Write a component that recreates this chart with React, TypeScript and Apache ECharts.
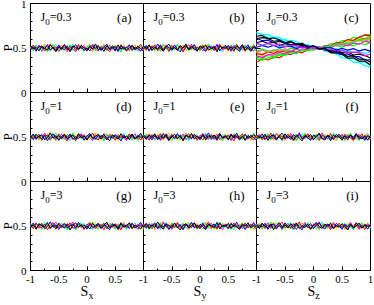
import React, { useEffect, useRef } from 'react';
import * as echarts from 'echarts';

// x grids
const X41 = [-1, -0.95, -0.9, -0.85, -0.8, -0.75, -0.7, -0.65, -0.6, -0.55, -0.5, -0.45, -0.4, -0.35, -0.3, -0.25, -0.2, -0.15, -0.1, -0.05, 0, 0.05, 0.1, 0.15, 0.2, 0.25, 0.3, 0.35, 0.4, 0.45, 0.5, 0.55, 0.6, 0.65, 0.7, 0.75, 0.8, 0.85, 0.9, 0.95, 1];
const X21 = [-1, -0.9, -0.8, -0.7, -0.6, -0.5, -0.4, -0.3, -0.2, -0.1, 0, 0.1, 0.2, 0.3, 0.4, 0.5, 0.6, 0.7, 0.8, 0.9, 1];

// flat noisy curves around P = 0.5
const n1 = [0.506, 0.478, 0.521, 0.493, 0.537, 0.472, 0.512, 0.488, 0.528, 0.464,
  0.503, 0.531, 0.483, 0.516, 0.459, 0.519, 0.495, 0.540, 0.476, 0.509,
  0.486, 0.529, 0.468, 0.514, 0.498, 0.524, 0.479, 0.535, 0.490, 0.511,
  0.470, 0.522, 0.497, 0.543, 0.481, 0.507, 0.461, 0.518, 0.492, 0.527, 0.502];
const n2 = [0.489, 0.526, 0.470, 0.513, 0.484, 0.545, 0.497, 0.463, 0.519, 0.505,
  0.477, 0.533, 0.491, 0.455, 0.510, 0.524, 0.480, 0.500, 0.538, 0.473,
  0.517, 0.493, 0.460, 0.522, 0.503, 0.482, 0.541, 0.467, 0.512, 0.495,
  0.530, 0.475, 0.515, 0.488, 0.462, 0.520, 0.499, 0.536, 0.479, 0.508, 0.486];
const n3 = [0.520, 0.495, 0.536, 0.474, 0.508, 0.487, 0.527, 0.466, 0.515, 0.543,
  0.484, 0.505, 0.472, 0.529, 0.498, 0.546, 0.480, 0.517, 0.490, 0.463,
  0.523, 0.503, 0.534, 0.477, 0.494, 0.514, 0.458, 0.519, 0.500, 0.532,
  0.486, 0.510, 0.469, 0.525, 0.496, 0.539, 0.476, 0.507, 0.461, 0.516, 0.497];
const n4 = [0.476, 0.505, 0.491, 0.532, 0.461, 0.514, 0.521, 0.483, 0.502, 0.473,
  0.536, 0.493, 0.512, 0.468, 0.525, 0.488, 0.457, 0.517, 0.498, 0.528,
  0.471, 0.509, 0.544, 0.486, 0.466, 0.519, 0.496, 0.481, 0.530, 0.503,
  0.463, 0.515, 0.490, 0.523, 0.475, 0.534, 0.500, 0.478, 0.511, 0.465, 0.518];
const n5 = [0.512, 0.470, 0.530, 0.498, 0.480, 0.523, 0.459, 0.507, 0.538, 0.488,
  0.516, 0.476, 0.526, 0.495, 0.535, 0.472, 0.503, 0.483, 0.519, 0.464,
  0.510, 0.541, 0.492, 0.474, 0.521, 0.500, 0.529, 0.468, 0.505, 0.485,
  0.524, 0.497, 0.455, 0.514, 0.481, 0.502, 0.533, 0.475, 0.518, 0.494, 0.508];
const n6 = [0.497, 0.534, 0.481, 0.510, 0.524, 0.468, 0.495, 0.547, 0.486, 0.515,
  0.462, 0.505, 0.527, 0.479, 0.500, 0.520, 0.473, 0.539, 0.492, 0.512,
  0.465, 0.526, 0.484, 0.507, 0.531, 0.476, 0.518, 0.494, 0.457, 0.522,
  0.502, 0.478, 0.537, 0.490, 0.513, 0.471, 0.529, 0.483, 0.498, 0.542, 0.477];
const n7 = [0.484, 0.515, 0.463, 0.524, 0.503, 0.491, 0.539, 0.478, 0.510, 0.469,
  0.530, 0.498, 0.482, 0.520, 0.456, 0.508, 0.536, 0.489, 0.513, 0.474,
  0.500, 0.466, 0.527, 0.495, 0.518, 0.472, 0.506, 0.544, 0.480, 0.497,
  0.517, 0.460, 0.525, 0.487, 0.504, 0.532, 0.473, 0.511, 0.492, 0.467, 0.522];
const n8 = [0.525, 0.489, 0.507, 0.467, 0.519, 0.496, 0.475, 0.533, 0.502, 0.458,
  0.513, 0.483, 0.540, 0.494, 0.471, 0.522, 0.508, 0.479, 0.531, 0.498,
  0.470, 0.517, 0.490, 0.546, 0.477, 0.505, 0.464, 0.524, 0.495, 0.514,
  0.474, 0.535, 0.487, 0.510, 0.469, 0.500, 0.528, 0.482, 0.521, 0.491, 0.465];
const FLAT = [n1, n2, n3, n4, n5, n6, n7, n8];
const FLAT_COLORS = ['#ffff00', '#ffa500', '#00ffff', '#ff00ff', '#00ff00', '#ff0000', '#0000ff', '#000000'];

// panel (c): fan of curves crossing near Sz ~ 0.1
const c1 = [0.680, 0.643, 0.654, 0.619, 0.620, 0.579, 0.585, 0.575, 0.535, 0.537, 0.505, 0.512, 0.463, 0.460, 0.441, 0.390, 0.383, 0.339, 0.340, 0.299, 0.288];
const c2 = [0.632, 0.641, 0.602, 0.612, 0.593, 0.561, 0.576, 0.545, 0.553, 0.514, 0.520, 0.491, 0.493, 0.446, 0.446, 0.431, 0.387, 0.390, 0.353, 0.354, 0.310];
const c3 = [0.613, 0.582, 0.588, 0.559, 0.575, 0.558, 0.533, 0.550, 0.519, 0.528, 0.496, 0.505, 0.474, 0.484, 0.447, 0.425, 0.434, 0.403, 0.404, 0.365, 0.367];
const c4 = [0.559, 0.576, 0.553, 0.564, 0.530, 0.545, 0.542, 0.513, 0.527, 0.507, 0.520, 0.490, 0.495, 0.465, 0.479, 0.451, 0.458, 0.421, 0.431, 0.415, 0.387];
const c5 = [0.549, 0.523, 0.544, 0.534, 0.513, 0.536, 0.509, 0.522, 0.497, 0.519, 0.498, 0.511, 0.481, 0.495, 0.493, 0.462, 0.473, 0.446, 0.463, 0.439, 0.452];
const c6 = [0.508, 0.528, 0.509, 0.529, 0.502, 0.515, 0.521, 0.494, 0.514, 0.499, 0.515, 0.489, 0.504, 0.505, 0.476, 0.496, 0.477, 0.493, 0.467, 0.484, 0.462];
const c7 = [0.556, 0.531, 0.553, 0.528, 0.545, 0.515, 0.528, 0.529, 0.501, 0.518, 0.498, 0.514, 0.481, 0.488, 0.461, 0.477, 0.447, 0.454, 0.450, 0.415, 0.430];
const c8 = [0.607, 0.617, 0.610, 0.576, 0.582, 0.551, 0.568, 0.537, 0.543, 0.510, 0.525, 0.494, 0.494, 0.454, 0.458, 0.443, 0.405, 0.414, 0.374, 0.373, 0.339];
const c9 = [0.340, 0.377, 0.365, 0.397, 0.391, 0.429, 0.427, 0.457, 0.446, 0.481, 0.496, 0.489, 0.528, 0.520, 0.549, 0.545, 0.584, 0.580, 0.614, 0.604, 0.639];
const c10 = [0.392, 0.382, 0.416, 0.400, 0.431, 0.429, 0.458, 0.444, 0.476, 0.483, 0.475, 0.510, 0.510, 0.549, 0.541, 0.582, 0.583, 0.621, 0.611, 0.650, 0.650];
const c11 = [0.403, 0.429, 0.412, 0.444, 0.456, 0.439, 0.465, 0.456, 0.489, 0.475, 0.497, 0.487, 0.525, 0.521, 0.550, 0.539, 0.580, 0.572, 0.604, 0.595, 0.634];
const c12 = [0.453, 0.433, 0.456, 0.467, 0.448, 0.476, 0.466, 0.492, 0.473, 0.495, 0.482, 0.512, 0.501, 0.533, 0.525, 0.550, 0.536, 0.568, 0.582, 0.569, 0.597];
const c13 = [0.459, 0.487, 0.469, 0.466, 0.491, 0.471, 0.498, 0.494, 0.478, 0.506, 0.489, 0.513, 0.494, 0.518, 0.528, 0.509, 0.537, 0.523, 0.553, 0.538, 0.560];
const c14 = [0.438, 0.423, 0.455, 0.439, 0.469, 0.455, 0.456, 0.488, 0.472, 0.493, 0.505, 0.486, 0.527, 0.522, 0.563, 0.559, 0.595, 0.587, 0.624, 0.644, 0.638];
const c15 = [0.411, 0.395, 0.425, 0.421, 0.449, 0.433, 0.464, 0.451, 0.487, 0.474, 0.496, 0.489, 0.521, 0.507, 0.535, 0.537, 0.525, 0.557, 0.542, 0.575, 0.563];
const c16 = [0.451, 0.476, 0.454, 0.481, 0.470, 0.492, 0.471, 0.492, 0.477, 0.506, 0.490, 0.509, 0.497, 0.533, 0.525, 0.557, 0.546, 0.573, 0.590, 0.576, 0.608];
const c17 = [0.665, 0.657, 0.618, 0.625, 0.591, 0.601, 0.567, 0.546, 0.555, 0.515, 0.523, 0.506, 0.466, 0.470, 0.428, 0.430, 0.382, 0.380, 0.342, 0.344, 0.304];
const c18 = [0.374, 0.363, 0.391, 0.385, 0.422, 0.417, 0.449, 0.435, 0.471, 0.470, 0.499, 0.489, 0.522, 0.512, 0.551, 0.541, 0.567, 0.560, 0.597, 0.589, 0.623];
const FAN = [c9, c10, c11, c12, c13, c14, c15, c16, c18, c17, c1, c2, c3, c4, c5, c6, c7, c8];
const FAN_COLORS = ['#ff0000', '#00ff00', '#ffff00', '#ffa500', '#00ff00', '#ff0000', '#ff00ff', '#bc8f8f', '#00ff00',
  '#00ffff', '#00ffff', '#000000', '#0000ff', '#000000', '#00ffff', '#0000ff', '#ff00ff', '#000000'];

const PANEL_LETTERS = ['(a)', '(b)', '(c)', '(d)', '(e)', '(f)', '(g)', '(h)', '(i)'];
const J0_VALUES = ['0.3', '1', '3'];
const AXIS_SUBS = ['x', 'y', 'z'];
const FAN_PANEL = 2;

const SERIF = 'Liberation Serif';

export default function App() {
  const ref = useRef<HTMLDivElement>(null);
  useEffect(() => {
    if (!ref.current) return;
    const chart = echarts.init(ref.current, null, { renderer: 'svg' });
    const grids: any[] = [];
    const xAxes: any[] = [];
    const yAxes: any[] = [];
    const series: any[] = [];
    const graphics: any[] = [];
    let flatIdx = 0;
    for (let p = 0; p < 9; p++) {
      const row = Math.floor(p / 3);
      const col = p % 3;
      const left = 30.5 + col * 113;
      const top = 3.5 + row * 89;
      const width = col === 2 ? 114 : 113;
      const height = 89;
      grids.push({
        left, top, width, height,
        show: true, borderColor: '#000', borderWidth: 1, backgroundColor: 'transparent',
        containLabel: false, outerBoundsMode: 'none',
      });
      xAxes.push({
        type: 'value', gridIndex: p, min: -1, max: 1, interval: 0.5,
        axisLine: { show: true, onZero: false, lineStyle: { color: '#000', width: 1 } },
        axisTick: { show: true, inside: true, length: 4, lineStyle: { color: '#000' } },
        minorTick: { show: true, splitNumber: 2, length: 2, lineStyle: { color: '#000' } },
        splitLine: { show: false }, minorSplitLine: { show: false },
        axisLabel: {
          show: row === 2, margin: 3, fontFamily: SERIF, fontSize: 11, lineHeight: 11, color: '#000',
          showMaxLabel: col === 2, showMinLabel: true,
        },
        name: row === 2 ? `{s|S}{b|${AXIS_SUBS[col]}}` : '',
        nameLocation: 'middle', nameGap: 14, nameMoveOverlap: false,
        nameTextStyle: {
          rich: {
            s: { fontFamily: SERIF, fontSize: 14, lineHeight: 14, color: '#000' },
            b: { fontFamily: SERIF, fontSize: 10, lineHeight: 9, padding: [7, 0, 0, 0], color: '#000' },
          },
        },
      });
      yAxes.push({
        type: 'value', gridIndex: p, min: 0, max: 1, interval: 0.5,
        axisLine: { show: true, onZero: false, lineStyle: { color: '#000', width: 1 } },
        axisTick: { show: true, inside: true, length: 4, lineStyle: { color: '#000' } },
        minorTick: { show: true, splitNumber: 5, length: 2, lineStyle: { color: '#000' } },
        splitLine: { show: false }, minorSplitLine: { show: false },
        axisLabel: {
          show: col === 0, margin: 4, fontFamily: SERIF, fontSize: 11, lineHeight: 7, color: '#000',
          showMaxLabel: row === 0, showMinLabel: true,
        },
        name: col === 0 ? 'P' : '', nameLocation: 'middle', nameGap: 17, nameRotate: 90,
        nameMoveOverlap: false,
        nameTextStyle: { fontFamily: SERIF, fontSize: 13, lineHeight: 13, color: '#000' },
      });
      if (p === FAN_PANEL) {
        FAN.forEach((arr, k) => {
          series.push({
            type: 'line', xAxisIndex: p, yAxisIndex: p, showSymbol: false, symbol: 'none',
            silent: true, lineStyle: { width: 1.2, color: FAN_COLORS[k] }, itemStyle: { color: FAN_COLORS[k] },
            data: X21.map((x, i) => [x, arr[i]]),
          });
        });
      } else {
        for (let k = 0; k < FLAT.length; k++) {
          const arr = FLAT[(k + flatIdx * 3) % FLAT.length];
          series.push({
            type: 'line', xAxisIndex: p, yAxisIndex: p, showSymbol: false, symbol: 'none',
            silent: true, lineStyle: { width: 1, color: FLAT_COLORS[k] }, itemStyle: { color: FLAT_COLORS[k] },
            data: X41.map((x, i) => [x, arr[i]]),
          });
        }
        flatIdx++;
      }
      graphics.push({
        type: 'text', x: left + 10, y: top + 13, z: 100,
        style: {
          text: `{m|J}{b|0}{m|=${J0_VALUES[row]}}`,
          align: 'left', verticalAlign: 'middle',
          rich: {
            m: { fontFamily: SERIF, fontSize: 12, lineHeight: 14, fill: '#000' },
            b: { fontFamily: SERIF, fontSize: 9, lineHeight: 9, padding: [10, 0, 0, 0], fill: '#000' },
          },
        },
      });
      graphics.push({
        type: 'text', x: left + width - 12, y: top + 13.5, z: 100,
        style: {
          text: PANEL_LETTERS[p], align: 'right', verticalAlign: 'middle',
          fontFamily: SERIF, fontSize: 13, fill: '#000',
        },
      });
    }
    chart.setOption({
      animation: false,
      backgroundColor: '#fff',
      grid: grids,
      xAxis: xAxes,
      yAxis: yAxes,
      series,
      graphic: graphics,
    });
    return () => chart.dispose();
  }, []);
  return (
    <div
      ref={ref}
      style={{ position: 'fixed', left: 0, top: 0, width: 374, height: 305, background: '#fff' }}
    />
  );
}
